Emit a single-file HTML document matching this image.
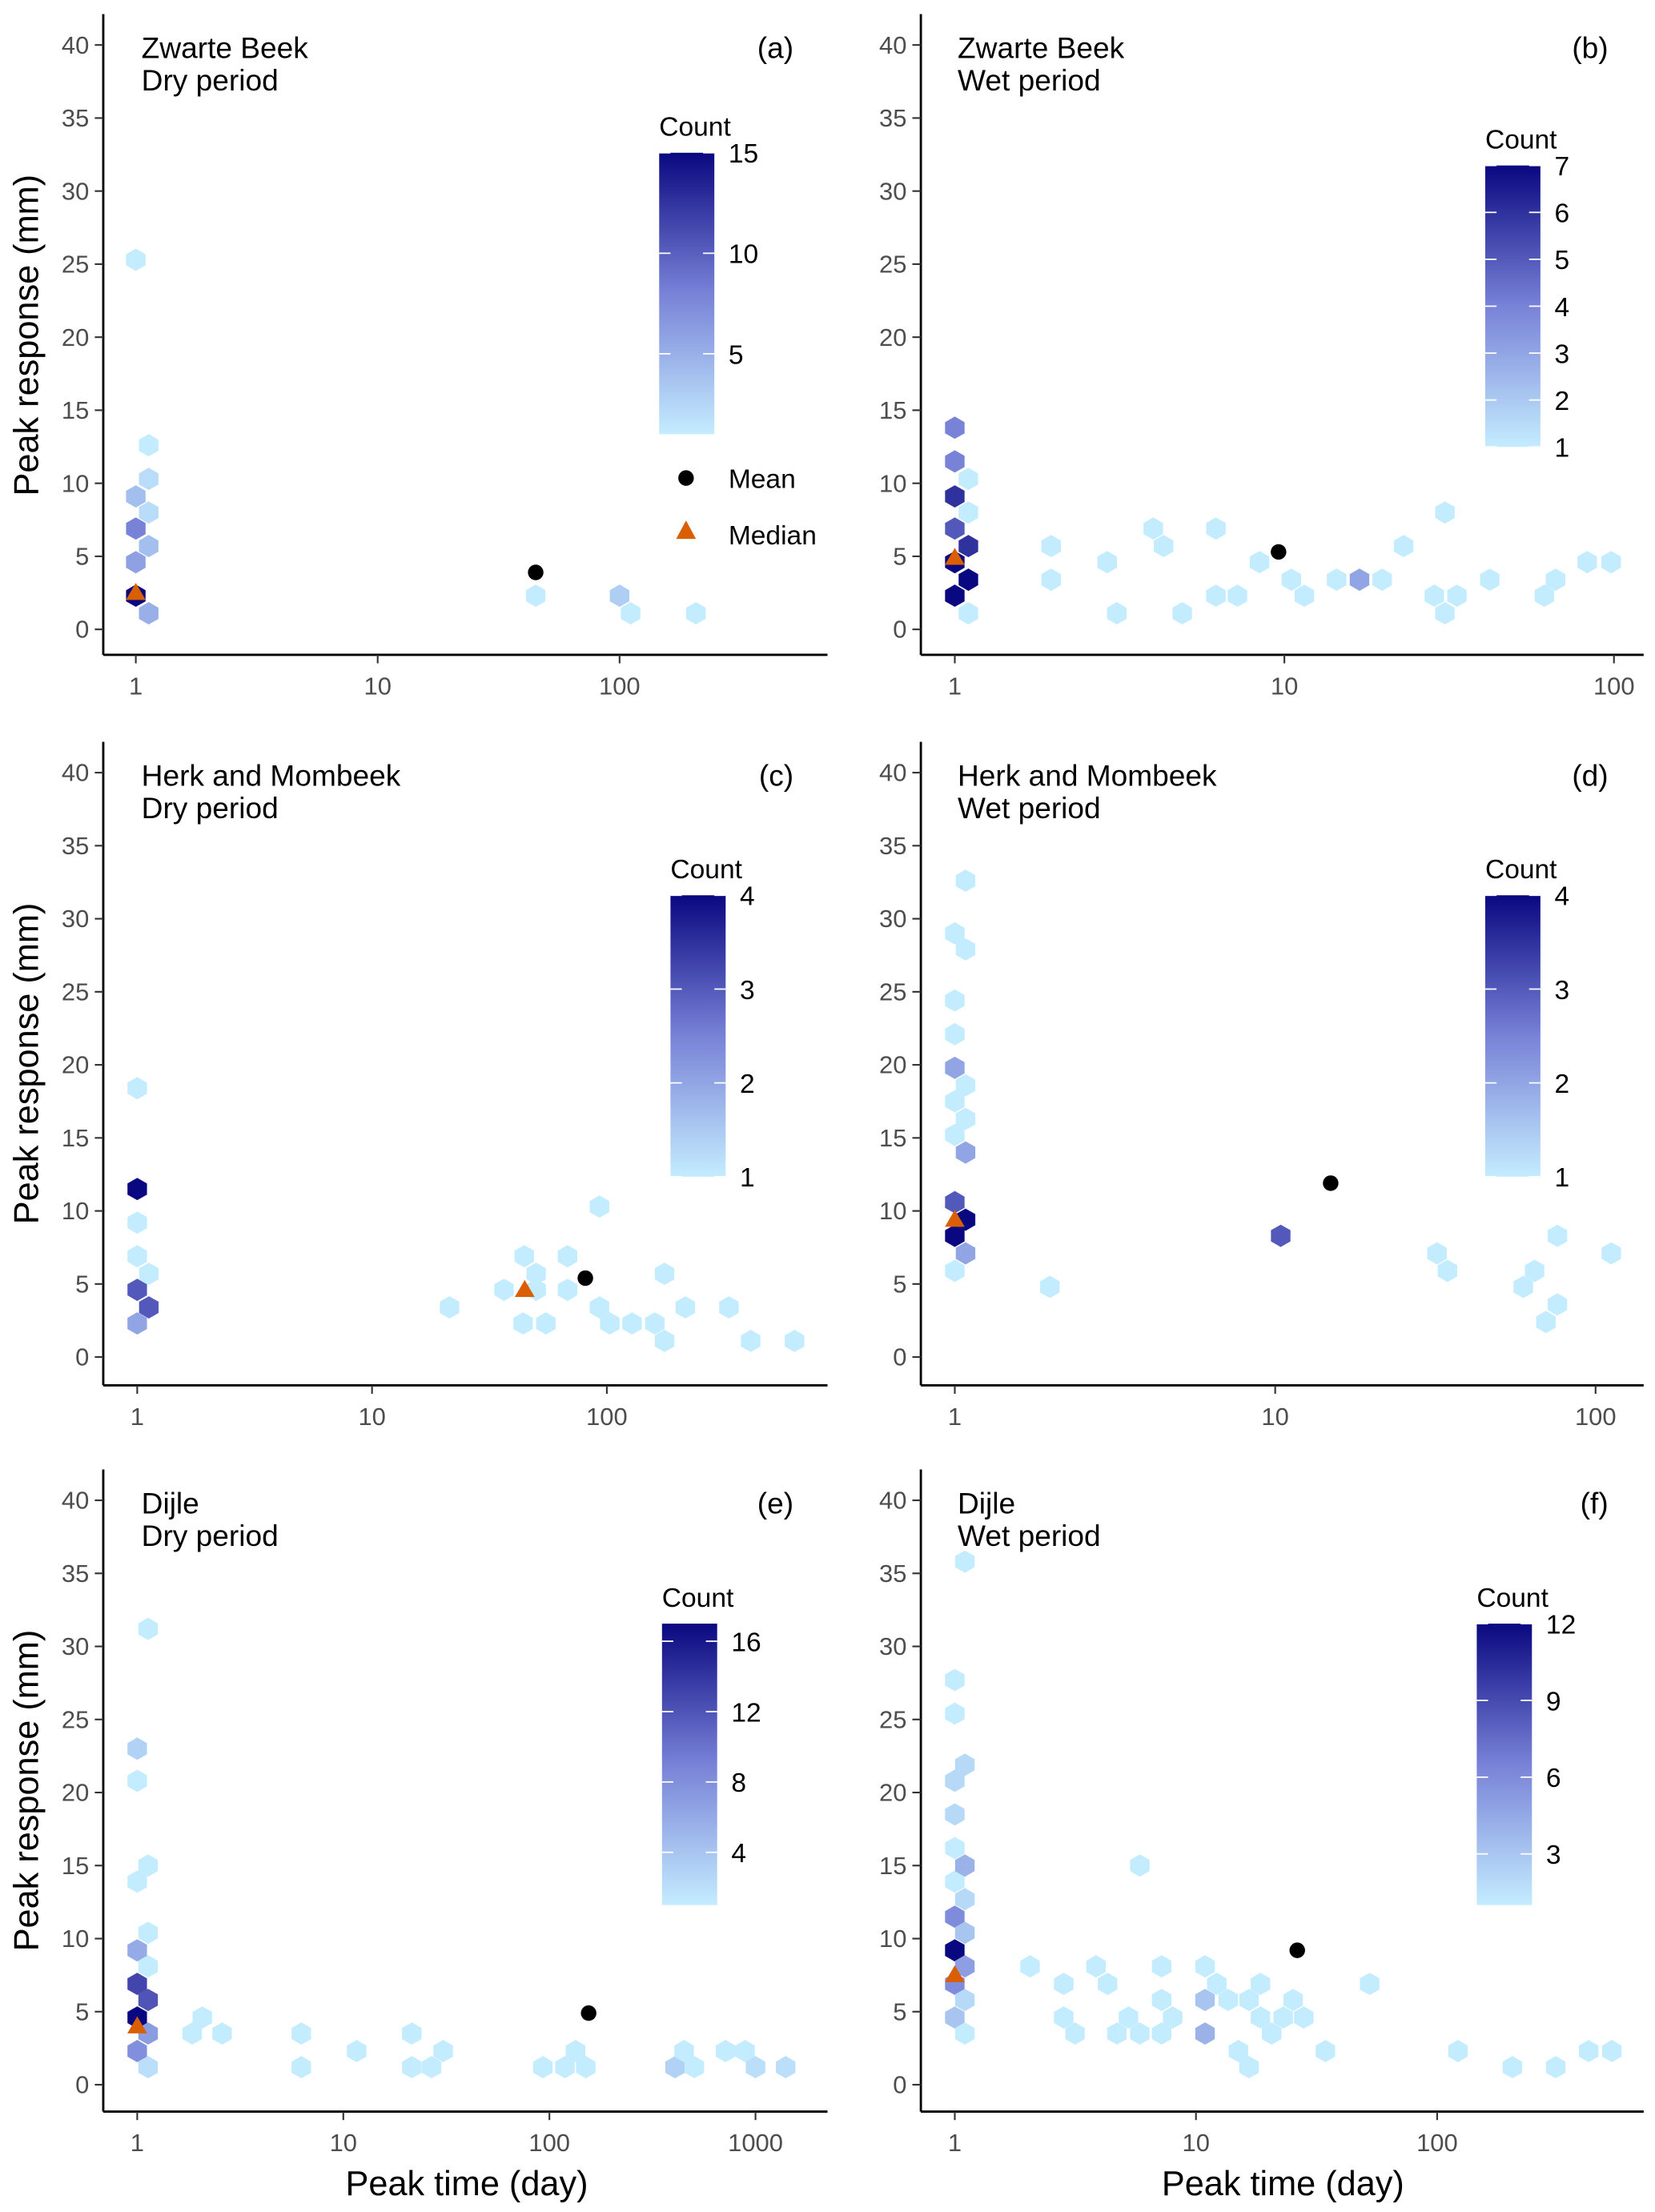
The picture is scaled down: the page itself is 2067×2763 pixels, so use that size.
<!DOCTYPE html>
<html><head><meta charset="utf-8"><style>
html,body{margin:0;padding:0;background:#fff}
svg{display:block;font-family:"Liberation Sans",Arial,sans-serif}
.tk{fill:#4d4d4d;font-size:17.5px}
.ttl{fill:#000;font-size:21px}
.lg{fill:#000;font-size:19px}
</style></head><body>
<svg id="chart" width="2067" height="2763" viewBox="0 0 1170 1564" xmlns="http://www.w3.org/2000/svg"></svg>
<script>
// data: [peak time (day), peak response (mm), count]
const hexA=[[1,25.3,1],[1.13,12.6,1],[1.13,10.3,2],[1,9.1,4],[1.13,8.0,2],[1,6.9,8],[1.13,5.7,4],[1,4.6,6],[1,2.3,15],[1.13,1.1,5],[45,2.3,1],[100,2.3,3],[111,1.1,1],[207,1.1,1]];
const hexB=[[1,13.8,4],[1,11.5,4],[1,9.1,6],[1,6.9,5],[1,4.6,7],[1,2.3,7],[1.1,10.3,1],[1.1,8.0,1],[1.1,5.7,6],[1.1,3.4,7],[1.1,1.1,1],[1.96,5.7,1],[1.96,3.4,1],[2.9,4.6,1],[3.1,1.1,1],[4.0,6.9,1],[4.3,5.7,1],[4.9,1.1,1],[6.2,6.9,1],[6.2,2.3,1],[7.2,2.3,1],[8.4,4.6,1],[10.5,3.4,1],[11.5,2.3,1],[14.4,3.4,1],[16.9,3.4,3],[19.8,3.4,1],[23,5.7,1],[28.5,2.3,1],[30.7,8.0,1],[30.7,1.1,1],[33.4,2.3,1],[42,3.4,1],[61.5,2.3,1],[66.5,3.4,1],[83,4.6,1],[98,4.6,1]];
const hexC=[[1,18.4,1],[1,11.5,4],[1,9.2,1],[1,6.9,1],[1,4.6,3],[1,2.3,2],[1.12,5.7,1],[1.12,3.4,3],[21.4,3.4,1],[36.5,4.6,1],[44.5,6.9,1],[50,5.7,1],[44,2.3,1],[55,2.3,1],[50,4.6,1],[68,6.9,1],[68,4.6,1],[93,10.3,1],[93,3.4,1],[103,2.3,1],[128,2.3,1],[160,2.3,1],[176,1.1,1],[176,5.7,1],[216,3.4,1],[331,3.4,1],[410,1.1,1],[630,1.1,1]];
const hexD=[[1,29.0,1],[1,24.4,1],[1,22.1,1],[1,19.8,2],[1,17.5,1],[1,15.2,1],[1,10.6,3],[1,8.3,4],[1,5.9,1],[1.08,32.6,1],[1.08,27.9,1],[1.08,18.6,1],[1.08,16.3,1],[1.08,14.0,2],[1.08,9.4,4],[1.08,7.1,2],[1.98,4.8,1],[10.4,8.3,3],[32,7.1,1],[34.5,5.9,1],[59.5,4.8,1],[64.5,5.9,1],[70,2.4,1],[76,3.6,1],[76,8.3,1],[112,7.1,1]];
const hexE=[[1,23.0,3],[1,20.8,1],[1,13.9,1],[1,9.2,6],[1,6.9,13],[1,4.6,17],[1,2.3,8],[1.13,31.2,1],[1.13,15.0,1],[1.13,10.4,1],[1.13,8.1,1],[1.13,5.8,12],[1.13,3.5,7],[1.13,1.2,2],[2.07,4.6,1],[1.85,3.5,1],[2.58,3.5,1],[6.25,3.5,1],[6.25,1.2,1],[11.6,2.3,1],[21.5,3.5,1],[21.5,1.2,1],[26.8,1.2,1],[30.5,2.3,1],[93,1.2,1],[119,1.2,1],[134,2.3,1],[150,1.2,1],[407,1.2,3],[450,2.3,1],[505,1.2,1],[715,2.3,1],[890,2.3,1],[1000,1.2,2],[1400,1.2,2]];
const hexF=[[1,27.7,1],[1,25.4,1],[1,20.8,2],[1,18.5,2],[1,16.2,1],[1,13.9,1],[1,11.5,6],[1,9.2,12],[1,6.9,6],[1,4.6,3],[1.1,35.8,1],[1.1,21.9,2],[1.1,15.0,4],[1.1,12.7,2],[1.1,10.4,3],[1.1,8.1,5],[1.1,5.8,2],[1.1,3.5,1],[2.05,8.1,1],[2.83,6.9,1],[2.83,4.6,1],[3.15,3.5,1],[3.85,8.1,1],[4.3,6.9,1],[4.7,3.5,1],[5.25,4.6,1],[5.85,15.0,1],[5.85,3.5,1],[7.2,8.1,1],[7.2,5.8,1],[7.2,3.5,1],[8.0,4.6,1],[10.9,8.1,1],[10.9,5.8,3],[10.9,3.5,4],[12.2,6.9,1],[13.6,5.8,1],[15,2.3,1],[16.6,5.8,1],[16.6,1.2,1],[18.5,6.9,1],[18.5,4.6,1],[20.6,3.5,1],[23,4.6,1],[25.3,5.8,1],[28,4.6,1],[34.4,2.3,1],[52.5,6.9,1],[122,2.3,1],[205,1.2,1],[310,1.2,1],[425,2.3,1],[530,2.3,1]];
const means=[[45,3.9],[9.6,5.3],[81,5.4],[14.9,11.9],[155,4.9],[26.3,9.2]];
const medians=[[1,2.5],[1,4.9],[44.7,4.6],[1,9.4],[1,4.0],[1,7.5]];
const countMax=[15,7,4,4,17,12];
const legendTicks=[[5,10,15],[1,2,3,4,5,6,7],[1,2,3,4],[1,2,3,4],[4,8,12,16],[3,6,9,12]];
const xTicks=[[1,10,100],[1,10,100],[1,10,100],[1,10,100],[1,10,100,1000],[1,10,100]];
const yTicks=[0,5,10,15,20,25,30,35,40];
const sites=["Zwarte Beek","Zwarte Beek","Herk and Mombeek","Herk and Mombeek","Dijle","Dijle"];
const periods=["Dry period","Wet period","Dry period","Wet period","Dry period","Wet period"];
const tags=["(a)","(b)","(c)","(d)","(e)","(f)"];
const allHex=[hexA,hexB,hexC,hexD,hexE,hexF];

// layout (not data)
const L=[{ax:73,right:585,x1:96,dec:171,leg:466,lt:108},{ax:651,right:1162,x1:675,dec:233,leg:1050,lt:117},
 {ax:73,right:585,x1:97,dec:166,leg:474,lt:633},{ax:651,right:1162,x1:675,dec:226.5,leg:1050,lt:633},
 {ax:73,right:585,x1:97,dec:145.7,leg:468,lt:1148},{ax:651,right:1162,x1:675,dec:170.5,leg:1044,lt:1148}];
const svg=document.getElementById('chart');
const NS="http://www.w3.org/2000/svg";
function mk(t,a,p){const e=document.createElementNS(NS,t);for(const k in a)e.setAttribute(k,a[k]);(p||svg).appendChild(e);return e;}
const lo=[196,236,255],mid=[120,130,215],hi=[10,8,128];
function col(f){f=Math.max(0,Math.min(1,f));let a,b,t;if(f<0.5){a=lo;b=mid;t=f/0.5}else{a=mid;b=hi;t=(f-0.5)/0.5}
 return 'rgb('+a.map((v,i)=>Math.round(v+(b[i]-v)*t)).join(',')+')';}
const defs=mk('defs',{});
for(let p=0;p<6;p++){
 const l=L[p],row=Math.floor(p/2),off=row*514.5;
 const base=445+off,top=10+off,xa=463+off+(row==1?2:0)+(row==2?1:0);
 const xs=v=>l.x1+Math.log10(v)*l.dec, ys=v=>base-v*10.33;
 const g=mk('g',{});
 
 
 const hw=6.9,hr=7.9;
 allHex[p].forEach(d=>{const cx=xs(d[0]),cy=ys(d[1]);
  const pts=[[0,-hr],[hw,-hr/2],[hw,hr/2],[0,hr],[-hw,hr/2],[-hw,-hr/2]].map(q=>(cx+q[0]).toFixed(1)+','+(cy+q[1]).toFixed(1)).join(' ');
  const h=mk('polygon',{points:pts,fill:col((d[2]-1)/(countMax[p]-1))},g);
  
  });
 const m=mk('circle',{cx:xs(means[p][0]),cy:ys(means[p][1]),r:5.5,fill:'#000'},g);
 
 
 const mx=xs(medians[p][0]),my=ys(medians[p][1]);
 const md=mk('polygon',{points:`${mx},${my-7} ${mx+7},${my+5} ${mx-7},${my+5}`,fill:'#d95f02'},g);
 
 
 mk('line',{x1:l.ax,y1:top,x2:l.ax,y2:xa,stroke:'#000','stroke-width':1.6},g);
 mk('line',{x1:l.ax,y1:xa,x2:l.right,y2:xa,stroke:'#000','stroke-width':1.6},g);
 yTicks.forEach(v=>{const y=ys(v);mk('line',{x1:l.ax-6,y1:y,x2:l.ax,y2:y,stroke:'#333','stroke-width':1.2},g);
  const t=mk('text',{x:l.ax-10,y:y+6,'text-anchor':'end',class:'tk'},g);t.textContent=v;
  
  });
 xTicks[p].forEach(v=>{const x=xs(v);mk('line',{x1:x,y1:xa,x2:x,y2:xa+6,stroke:'#333','stroke-width':1.2},g);
  const t=mk('text',{x:x,y:xa+28,'text-anchor':'middle',class:'tk'},g);t.textContent=v;
  
  });
 const tx=(p%2==0)?100:677;
 let t=mk('text',{x:tx,y:41+off,class:'ttl'},g);t.textContent=sites[p];
 
 
 t=mk('text',{x:tx,y:64+off,class:'ttl'},g);t.textContent=periods[p];
 
 
 t=mk('text',{x:(p%2==0)?561:1137,y:41+off,'text-anchor':'end',class:'ttl'},g);t.textContent=tags[p];
 
 
 const gid='gr'+p;const gr=mk('linearGradient',{id:gid,x1:0,y1:1,x2:0,y2:0},defs);
 for(let i=0;i<=10;i++)mk('stop',{offset:i/10,'stop-color':col(i/10)},gr);
 const bt=l.lt,bb=l.lt+199,bx=l.leg;
 const cb=mk('rect',{x:bx,y:bt,width:39,height:199,fill:`url(#${gid})`},g);
 
 
 t=mk('text',{x:bx,y:bt-12,class:'lg'},g);t.textContent='Count';
 
 
 const cs=v=>bb-(v-1)/(countMax[p]-1)*199;
 legendTicks[p].forEach(v=>{const y=cs(v);
  mk('line',{x1:bx,y1:y,x2:bx+8,y2:y,stroke:'#fff','stroke-width':1},g);
  mk('line',{x1:bx+31,y1:y,x2:bx+39,y2:y,stroke:'#fff','stroke-width':1},g);
  const tt=mk('text',{x:bx+49,y:y+7,class:'lg'},g);tt.textContent=v;
  
  });
}
let e=mk('circle',{cx:485,cy:338,r:5.5,fill:'#000'});


e=mk('text',{x:515,y:345,class:'lg'});e.textContent='Mean';


e=mk('polygon',{points:'485,368 492,381 478,381',fill:'#d95f02'});


e=mk('text',{x:515,y:385,class:'lg'});e.textContent='Median';


[237,752,1266].forEach(cy=>{const t=mk('text',{x:0,y:0,transform:`translate(27,${cy}) rotate(-90)`,'text-anchor':'middle',style:'font-size:24.5px'});
 t.textContent='Peak response (mm)';
 
 });
[330,907].forEach(cx=>{const t=mk('text',{x:cx,y:1552,'text-anchor':'middle',style:'font-size:24.5px'});
 t.textContent='Peak time (day)';
 
 });
</script>
</body></html>
